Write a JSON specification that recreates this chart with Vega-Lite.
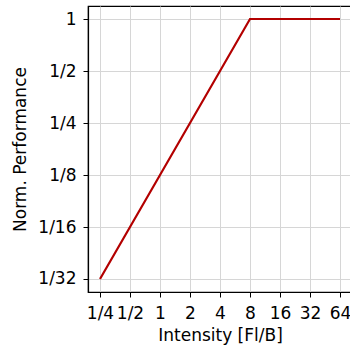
{
  "$schema": "https://vega.github.io/schema/vega-lite/v6.json",
  "autosize": "none",
  "width": 264,
  "height": 286,
  "padding": {"left": 88, "top": 6, "right": 0, "bottom": 55},
  "background": "white",
  "view": {"stroke": "black", "strokeWidth": 1.2},
  "config": {
    "font": "DejaVu Sans",
    "axis": {
      "labelFont": "DejaVu Sans",
      "titleFont": "DejaVu Sans",
      "labelFontSize": 17,
      "titleFontSize": 17,
      "titleFontWeight": "normal",
      "labelColor": "black",
      "titleColor": "black",
      "domainColor": "black",
      "domainWidth": 1.2,
      "tickColor": "black",
      "tickSize": 5,
      "tickWidth": 1,
      "gridColor": "#d6d6d6",
      "gridWidth": 1
    }
  },
  "data": {
    "values": [
      {"intensity": 0.25, "perf": 0.03125},
      {"intensity": 8, "perf": 1},
      {"intensity": 64, "perf": 1}
    ]
  },
  "mark": {"type": "line", "color": "#b30000", "strokeWidth": 2.2, "clip": true},
  "encoding": {
    "x": {
      "field": "intensity",
      "type": "quantitative",
      "scale": {"type": "log", "base": 2, "domain": [0.18946, 84.45], "nice": false},
      "axis": {
        "title": "Intensity [Fl/B]",
        "values": [0.25, 0.5, 1, 2, 4, 8, 16, 32, 64],
        "labelExpr": "datum.value < 1 ? '1/' + round(1/datum.value) : format(datum.value, 'd')",
        "labelFlush": false,
        "labelOverlap": false,
        "labelPadding": 8,
        "titlePadding": 6
      }
    },
    "y": {
      "field": "perf",
      "type": "quantitative",
      "scale": {"type": "log", "base": 2, "domain": [0.026278, 1.18921], "nice": false},
      "axis": {
        "title": "Norm. Performance",
        "values": [0.03125, 0.0625, 0.125, 0.25, 0.5, 1],
        "labelExpr": "datum.value < 1 ? '1/' + round(1/datum.value) : format(datum.value, 'd')",
        "labelFlush": false,
        "labelOverlap": false,
        "labelPadding": 7,
        "titlePadding": 8
      }
    }
  }
}
